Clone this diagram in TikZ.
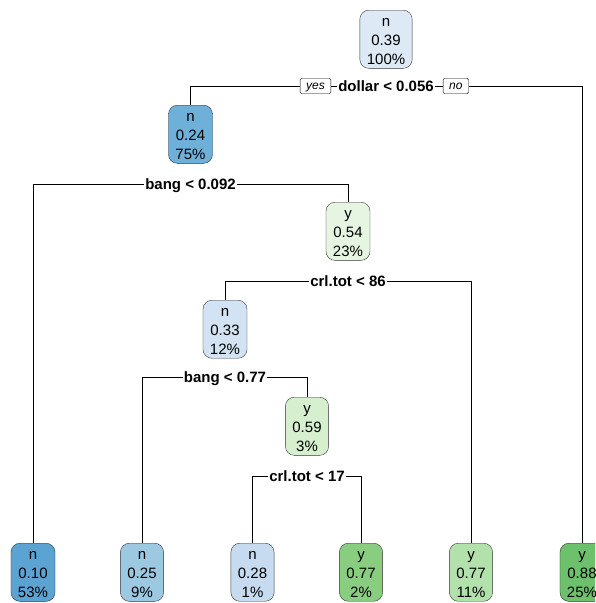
\documentclass[tikz,border=0pt]{standalone}
\usepackage{fontspec}
\setmainfont{Liberation Sans}
\usetikzlibrary{positioning}

\definecolor{blueA}{HTML}{DDEAF6}
\definecolor{blueB}{HTML}{6FB0D8}
\definecolor{blueC}{HTML}{5BA3D2}
\definecolor{blueD}{HTML}{9DC8E2}
\definecolor{blueE}{HTML}{C6DBEF}
\definecolor{blueF}{HTML}{D3E3F3}
\definecolor{greenA}{HTML}{E6F5E1}
\definecolor{greenB}{HTML}{D5EFCF}
\definecolor{greenC}{HTML}{B3E1AC}
\definecolor{greenD}{HTML}{89CE80}
\definecolor{greenE}{HTML}{6DC06C}

\tikzset{
  tnode/.style={draw=black!80, fill=#1, rounded corners=9pt, inner xsep=7pt,
    inner ysep=4pt, align=center, anchor=north, font=\fontsize{15}{19}\selectfont},
  split/.style={font=\fontsize{15}{19}\selectfont\bfseries, inner xsep=1pt,
    inner ysep=0pt, text height=11pt, text depth=0pt},
  yesno/.style={draw, rounded corners=1.5pt, font=\fontsize{12}{12}\selectfont\itshape,
    inner xsep=6pt, inner ysep=2pt, text height=9pt, text depth=2.5pt},
}
\newcommand{\rptext}[3]{\rule{0pt}{12pt}#1\\#2\\#3}

\begin{document}
\begin{tikzpicture}[x=1pt, y=-1pt]
  \clip (0,0) rectangle (595,603);

  % Define nodes
  \node[tnode=blueA] (root) at (386,10) {\rptext{n}{0.39}{100\%}};
  \node[split] (sdollar) at (386,86) {dollar < 0.056};
  \node[yesno, left=6pt of sdollar] (yes) {yes};
  \node[yesno, right=8pt of sdollar] (no) {no};

  \node[tnode=blueB] (n24) at (190.5,105) {\rptext{n}{0.24}{75\%}};
  \node[split] (sbang) at (190.5,184) {bang < 0.092};

  \node[tnode=greenA] (y54) at (348,202) {\rptext{y}{0.54}{23\%}};
  \node[split] (scrl) at (348,281) {crl.tot < 86};

  \node[tnode=blueF] (n33) at (225,300) {\rptext{n}{0.33}{12\%}};
  \node[split] (sbangb) at (225,377) {bang < 0.77};

  \node[tnode=greenB] (y59) at (307,397) {\rptext{y}{0.59}{3\%}};
  \node[split] (scrlb) at (307,476) {crl.tot < 17};

  % Leaves
  \node[tnode=blueC] (l10) at (33,543) {\rptext{n}{0.10}{53\%}};
  \node[tnode=blueD] (l25) at (142,543) {\rptext{n}{0.25}{9\%}};
  \node[tnode=blueE] (l28) at (252.5,543) {\rptext{n}{0.28}{1\%}};
  \node[tnode=greenD] (l77a) at (361,543) {\rptext{y}{0.77}{2\%}};
  \node[tnode=greenC] (l77b) at (471,543) {\rptext{y}{0.77}{11\%}};
  \node[tnode=greenE] (l88) at (582,543) {\rptext{y}{0.88}{25\%}};

  % Connect the nodes
  \draw (sdollar.west) -- (yes.east);
  \draw (yes.west) -| (n24.north);
  \draw (sdollar.east) -- (no.west);
  \draw (no.east) -| (l88.north);

  \draw (sbang.west) -| (l10.north);
  \draw (sbang.east) -| (y54.north);

  \draw (scrl.west) -| (n33.north);
  \draw (scrl.east) -| (l77b.north);

  \draw (sbangb.west) -| (l25.north);
  \draw (sbangb.east) -| (y59.north);

  \draw (scrlb.west) -| (l28.north);
  \draw (scrlb.east) -| (l77a.north);
\end{tikzpicture}
\end{document}
